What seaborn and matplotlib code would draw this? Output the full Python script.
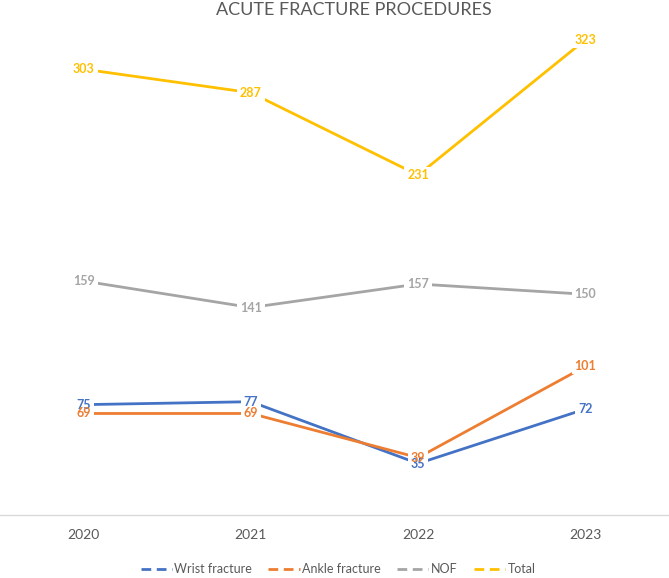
import pandas as pd
import numpy as np
import matplotlib.pyplot as plt
import seaborn as sns
from matplotlib.lines import Line2D
from matplotlib.patches import Rectangle

# -----------------------------
# Data
# -----------------------------
years = [2020, 2021, 2022, 2023]
wrist = [75, 77, 35, 72]
ankle = [69, 69, 39, 101]
nof = [159, 141, 157, 150]
total = [303, 287, 231, 323]

series_names = ["Wrist fracture", "Ankle fracture", "NOF", "Total"]
colors = ["#4472C4", "#ED7D31", "#A5A5A5", "#FFC000"]

df = pd.DataFrame({
    "year": years * 4,
    "value": wrist + ankle + nof + total,
    "series": np.repeat(series_names, len(years)),
})

# -----------------------------
# Plot
# -----------------------------
sns.set_style("white")
plt.rcParams["font.family"] = ["Lato", "DejaVu Sans"]

fig = plt.figure(figsize=(6.69, 5.78), dpi=100)
ax = fig.add_axes([0, 63 / 578, 1, 515 / 578])

palette = dict(zip(series_names, colors))
sns.lineplot(data=df, x="year", y="value", hue="series", palette=palette,
             linewidth=2.0, ax=ax, legend=False, sort=False)

ax.set_xlim(2019.5, 2023.5)
ax.set_ylim(0, 350)

# data labels
labels = []
for name, vals in zip(series_names, [wrist, ankle, nof, total]):
    for x, v in zip(years, vals):
        t = ax.text(x, v, str(v), ha="center", va="center", fontsize=9,
                    fontweight="bold", color=palette[name], zorder=5)
        labels.append(t)

# white boxes under the labels so the lines stop short of them (Excel look)
fig.canvas.draw()
renderer = fig.canvas.get_renderer()
for t in labels:
    bb = t.get_window_extent(renderer)
    ax.add_patch(Rectangle((bb.x0 - 3, bb.y0 - 2), bb.width + 6, bb.height + 4,
                           transform=None, facecolor="white", edgecolor="none",
                           zorder=4))

ax.set_xticks(years)
ax.set_xticklabels([str(y) for y in years], fontsize=10, color="#595959")
ax.set_yticks([])
ax.set_xlabel("")
ax.set_ylabel("")
ax.tick_params(axis="x", length=0, pad=10)
for s in ["top", "left", "right"]:
    ax.spines[s].set_visible(False)
ax.spines["bottom"].set_color("#D9D9D9")
ax.spines["bottom"].set_linewidth(1)

fig.text(354 / 669, 1 - 10 / 578, "ACUTE FRACTURE PROCEDURES", ha="center",
         va="center", fontsize=13, color="#595959")

handles = [Line2D([0], [0], color=c, lw=2, linestyle=(0, (3.5, 2)))
           for c in colors]
fig.legend(handles, series_names, loc="center", bbox_to_anchor=(338 / 669, 1 - 569 / 578),
           ncol=4, frameon=False, fontsize=9, handlelength=2.5,
           handletextpad=0.2, columnspacing=1.3, labelcolor="#595959")

plt.savefig("out.png", dpi=100)
